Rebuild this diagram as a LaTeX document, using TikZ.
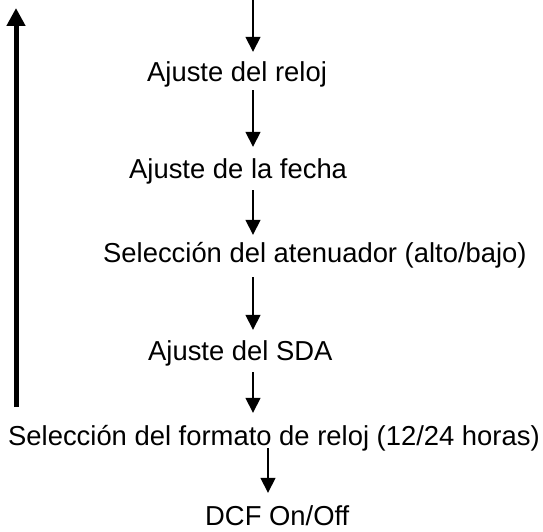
\documentclass[tikz,border=0pt]{standalone}
\usepackage{fontspec}
\setmainfont{Liberation Sans}
\usetikzlibrary{arrows.meta}
\begin{document}
\begin{tikzpicture}[x=1pt,y=1pt,
  lbl/.style={anchor=base west,inner sep=0pt,text height=20pt,text depth=6pt,
    font=\fontsize{27.4}{30}\selectfont},
  arr/.style={line width=1.6pt,-{Triangle[length=15pt,width=15pt]}},
  bigarr/.style={line width=5pt,-{Triangle[length=18pt,width=18pt]}}]
\useasboundingbox (0,0) rectangle (543,-532);
\coordinate (X) at (253,0);
\coordinate (Y) at (268,0);
\coordinate (top) at (253,0);
\coordinate (bb) at (16,-407);
\coordinate (bt) at (16,-8);
\node[lbl] (reloj) at (147,-82) {Ajuste del reloj};
\node[lbl] (fecha) at (129,-178) {Ajuste de la fecha};
\node[lbl] (aten) at (103,-262) {Selección del atenuador (alto/bajo)};
\node[lbl] (sda) at (148,-360) {Ajuste del SDA};
\node[lbl] (fmt) at (8,-445) {Selección del formato de reloj (12/24 horas)};
\node[lbl] (dcf) at (205,-525) {DCF On/Off};
\draw[arr] (top) -- ([yshift=10pt]reloj.north -| X);
\draw[arr] ([yshift=-2pt]reloj.south -| X) -- ([yshift=11pt]fecha.north -| X);
\draw[arr] ([yshift=-6pt]fecha.south -| X) -- ([yshift=7pt]aten.north -| X);
\draw[arr] ([yshift=-9pt]aten.south -| X) -- ([yshift=10pt]sda.north -| X);
\draw[arr] ([yshift=-6pt]sda.south -| X) -- ([yshift=12pt]fmt.north -| X);
\draw[arr] ([yshift=3pt]fmt.south -| Y) -- ([yshift=12pt]dcf.north -| Y);
\draw[bigarr] (bb) -- (bt);
\end{tikzpicture}
\end{document}
